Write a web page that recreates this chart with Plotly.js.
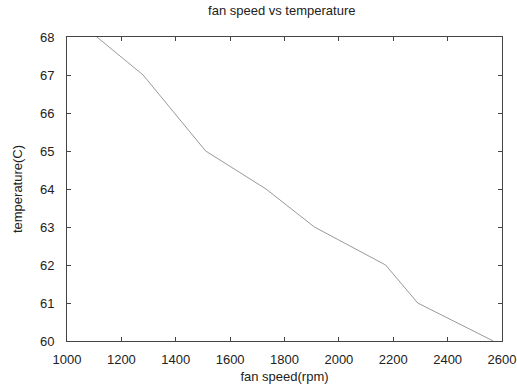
<!DOCTYPE html>
<html><head><meta charset="utf-8">
<script src="https://cdn.plot.ly/plotly-3.0.1.min.js"></script>
<style>body{margin:0;background:#fff}#c{width:517px;height:390px}</style>
</head><body><div id="c"></div>
<script>
const fanSpeed = [1110, 1280, 1510, 1732, 1910, 2172, 2290, 2568];
const temperature = [68, 67, 65, 64, 63, 62, 61, 60];
const xTicks = [1000, 1200, 1400, 1600, 1800, 2000, 2200, 2400, 2600];
const yTicks = [60, 61, 62, 63, 64, 65, 66, 67, 68];

const fontFam = 'Liberation Sans, Arial, sans-serif';
const axisCommon = {
  showgrid: false, zeroline: false, showline: true, linecolor: '#444', linewidth: 1,
  mirror: 'ticks', ticks: 'inside', ticklen: 4, tickcolor: '#444', tickwidth: 1,
  tickfont: {family: fontFam, size: 13, color: '#222'}
};
Plotly.newPlot('c', [{
  x: fanSpeed, y: temperature, type: 'scatter', mode: 'lines',
  line: {color: '#999', width: 1}
}], {
  width: 517, height: 390,
  margin: {l: 67, r: 15, t: 37, b: 49},
  paper_bgcolor: '#fff', plot_bgcolor: '#fff',
  showlegend: false,
  title: {text: 'fan speed vs temperature', font: {family: fontFam, size: 13, color: '#222'}, x: 0.545, xanchor: 'center', y: 0.972, yanchor: 'middle'},
  xaxis: Object.assign({}, axisCommon, {range: [1000, 2600], tickvals: xTicks, ticktext: xTicks.map(String), ticklabelstandoff: 6,
    title: {text: 'fan speed(rpm)', font: {family: fontFam, size: 13, color: '#222'}, standoff: 6}}),
  yaxis: Object.assign({}, axisCommon, {range: [60, 68], tickvals: yTicks, ticktext: yTicks.map(String), ticklabelstandoff: 9,
    title: {text: 'temperature(C)', font: {family: fontFam, size: 13, color: '#222'}, standoff: 14}})
}, {displayModeBar: false, staticPlot: true});
</script></body></html>
